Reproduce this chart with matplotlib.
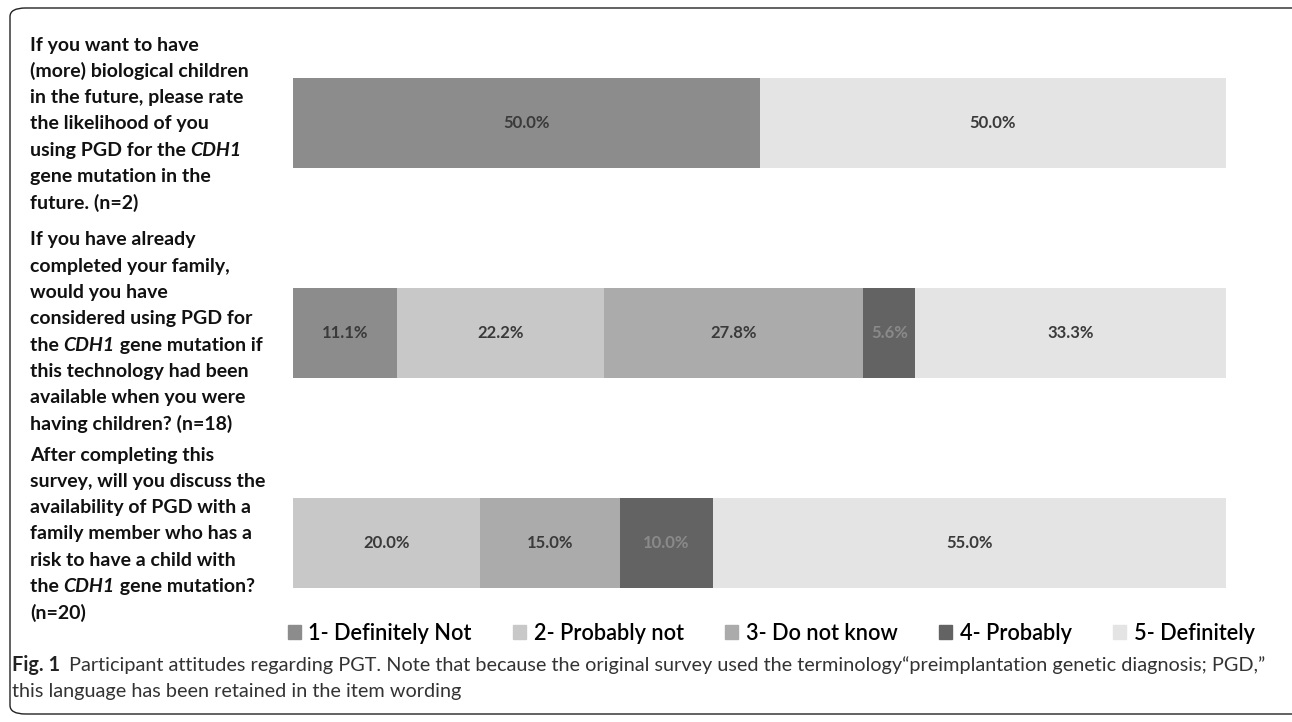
import matplotlib
matplotlib.use("Agg")
import matplotlib.pyplot as plt
from matplotlib.patches import FancyBboxPatch

# *...* marks italic parts of the question text
questions = [
    ["If you want to have", "(more) biological children", "in the future, please rate",
     "the likelihood of you", "using PGD for the *CDH1*", "gene mutation in the", "future. (n=2)"],
    ["If you have already", "completed your family,", "would you have", "considered using PGD for",
     "the *CDH1* gene mutation if", "this technology had been", "available when you were",
     "having children? (n=18)"],
    ["After completing this", "survey, will you discuss the", "availability of PGD with a",
     "family member who has a", "risk to have a child with", "the *CDH1* gene mutation?", "(n=20)"],
]
categories = ["1- Definitely Not", "2- Probably not", "3- Do not know", "4- Probably", "5- Definitely"]
values = [
    [50.0, 0.0, 0.0, 0.0, 50.0],
    [11.1, 22.2, 27.8, 5.6, 33.3],
    [0.0, 20.0, 15.0, 10.0, 55.0],
]
colors = ["#8c8c8c", "#c8c8c8", "#ababab", "#636363", "#e4e4e4"]
label_colors = ["#3a3a3a", "#3a3a3a", "#3a3a3a", "#8a8a8a", "#3a3a3a"]

W, H = 1292, 722
fig = plt.figure(figsize=(W / 100, H / 100), dpi=100)
ax = fig.add_axes([0.2268, 0.1025, 0.949 - 0.2268, 0.975 - 0.1025])

for i, row in enumerate(values):
    left = 0
    for j, v in enumerate(row):
        if v > 0:
            ax.barh(i, v, left=left, height=0.43, color=colors[j])
            ax.text(left + v / 2, i, f"{v:.1f}%", ha="center", va="center",
                    fontsize=12, fontweight="bold", color=label_colors[j], family="Lato")
        left += v

ax.set_xlim(0, 100)
ax.set_ylim(2.5, -0.5)
ax.axis("off")

handles = [plt.Rectangle((0, 0), 1, 1, color=c) for c in colors]
fig.legend(handles, categories, loc="center", bbox_to_anchor=(0.597, 1 - 633 / H), ncol=5,
           frameon=False, handlelength=0.6, handleheight=0.6, handletextpad=0.35,
           columnspacing=1.9, prop={"family": "Lato", "size": 15.7, "weight": "semibold"})

# question labels, drawn line by line so CDH1 can be italic
fig.canvas.draw()
renderer = fig.canvas.get_renderer()
tops = [45, 240, 455]
pitch = 26.3
for lines, top in zip(questions, tops):
    for k, line in enumerate(lines):
        y = 1 - (top + k * pitch) / H
        x = 30.0
        parts = line.split("*")
        for p, seg in enumerate(parts):
            if not seg:
                continue
            t = fig.text(x / W, y, seg, ha="left", va="center", fontsize=14, fontweight="bold",
                         family="Lato", style="italic" if p % 2 else "normal", color="#111111")
            x += t.get_window_extent(renderer).width

# caption
cap1 = fig.text(12 / W, 1 - 665 / H, "Fig. 1", fontsize=14.3, fontweight="bold",
                family="Lato", va="center", color="#222222")
bb = cap1.get_window_extent(renderer)
fig.text((bb.x1 + 9) / W, 1 - 665 / H,
         "Participant attitudes regarding PGT. Note that because the original survey used the terminology"
         "\u201cpreimplantation genetic diagnosis; PGD,\u201d",
         fontsize=14.3, family="Lato", va="center", color="#333333")
fig.text(12 / W, 1 - 691 / H, "this language has been retained in the item wording",
         fontsize=14.3, family="Lato", va="center", color="#333333")

frame = FancyBboxPatch((10 / W, 8 / H), 1.1, 1 - 16 / H,
                       boxstyle="round,pad=0,rounding_size=0.012", transform=fig.transFigure,
                       fill=False, edgecolor="#222222", linewidth=1.0, clip_on=False)
fig.patches.append(frame)

fig.savefig("out.png", dpi=100)
